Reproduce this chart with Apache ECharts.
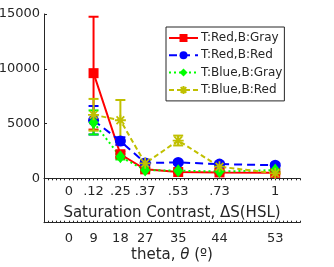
<!DOCTYPE html>
<html><head><meta charset="utf-8">
<script src="https://cdn.jsdelivr.net/npm/echarts@6/dist/echarts.min.js"></script>
<style>html,body{margin:0;padding:0;background:#fff}#c{width:334px;height:267px}</style>
</head><body><div id="c"></div>
<script>
var sat = [0.12, 0.25, 0.37, 0.53, 0.73, 1];
var satTicks = [0, 0.12, 0.25, 0.37, 0.53, 0.73, 1];
var satTickLabels = ['0', '.12', '.25', '.37', '.53', '.73', '1'];
var thetaTickLabels = ['0', '9', '18', '27', '35', '44', '53'];
var yTicks = [0, 5000, 10000, 15000];
var names = ['T:Red,B:Gray', 'T:Red,B:Red', 'T:Blue,B:Gray', 'T:Blue,B:Red'];
var redVals = [9600, 2200, 820, 580, 540, 500];
var redErr = [5150, 250, 150, 100, 100, 80];
var blueVals = [5300, 3400, 1400, 1450, 1300, 1200];
var blueErr = [1300, 350, 200, 150, 150, 150];
var greenVals = [5100, 1970, 750, 700, 620, 750];
var greenErr = [1100, 250, 120, 100, 80, 100];
var yellowVals = [5800, 5300, 1370, 3450, 1060, 460];
var yellowErr = [1450, 1850, 350, 450, 200, 100];

var xMin = -0.12, xMax = 1.12, yMin = -4050, yMax = 15000;
var colors = ['#ff0000', '#0000ff', '#00ff00', '#c0c000'];
var vals = [redVals, blueVals, greenVals, yellowVals];
var errs = [redErr, blueErr, greenErr, yellowErr];
var lineTypes = ['solid', [8, 5], [2, 3], [5, 3]];
var symbols = ['rect', 'circle', 'diamond', 'path://M0,-5L0,5M-5,0L5,0M-3.5,-3.5L3.5,3.5M-3.5,3.5L3.5,-3.5'];
var symSizes = [10, 11, [10, 13], 11];
var txt = '#262626';
var font = 'DejaVu Sans';

var gLeft = 44, gTop = 14, gW = 256, gH = 208.7;
// upper grid ends where y = 0 in the main grid
var gH0 = gH * (yMax - 0) / (yMax - yMin);

var series = [];
for (var k = 0; k < 4; k++) {
  (function (k) {
    var ebData = sat.map(function (x, i) { return [x, vals[k][i] - errs[k][i], vals[k][i] + errs[k][i]]; });
    series.push({
      type: 'custom', name: 'err' + k, xAxisIndex: 0, yAxisIndex: 0,
      data: ebData, encode: { x: 0, y: [1, 2] }, silent: true,
      renderItem: function (params, api) {
        var x = api.value(0);
        var lo = api.coord([x, api.value(1)]);
        var hi = api.coord([x, api.value(2)]);
        var w = 5;
        var st = { stroke: colors[k], lineWidth: 2 };
        return { type: 'group', children: [
          { type: 'line', shape: { x1: lo[0], y1: lo[1], x2: hi[0], y2: hi[1] }, style: st },
          { type: 'line', shape: { x1: lo[0] - w, y1: lo[1], x2: lo[0] + w, y2: lo[1] }, style: st },
          { type: 'line', shape: { x1: hi[0] - w, y1: hi[1], x2: hi[0] + w, y2: hi[1] }, style: st }
        ] };
      }
    });
    series.push({
      type: 'line', name: names[k], xAxisIndex: 0, yAxisIndex: 0,
      data: sat.map(function (x, i) { return [x, vals[k][i]]; }),
      symbol: symbols[k], symbolSize: symSizes[k], showAllSymbol: true,
      lineStyle: { color: colors[k], width: 2, type: lineTypes[k] },
      itemStyle: { color: colors[k], borderColor: colors[k], borderWidth: k === 3 ? 1.8 : 0 },
      animation: false
    });
  })(k);
}

var chart = echarts.init(document.getElementById('c'));
chart.setOption({
  animation: false,
  textStyle: { fontFamily: font },
  grid: [
    { left: gLeft, top: gTop, width: gW, height: gH, outerBoundsMode: 'none', containLabel: false },
    { left: gLeft, top: gTop, width: gW, height: gH0, outerBoundsMode: 'none', containLabel: false }
  ],
  legend: {
    data: names, orient: 'vertical', left: 166, top: 27,
    itemWidth: 29, itemHeight: 10, itemGap: 5.3,
    padding: [5, 2, 5, 2],
    borderColor: txt, borderWidth: 1, backgroundColor: '#fff',
    textStyle: { fontFamily: font, fontSize: 12, color: txt, padding: [0, 0, 0, -2] }
  },
  xAxis: [{
    // theta axis at the bottom of main grid (series drawn here)
    type: 'value', gridIndex: 0, position: 'bottom', min: xMin, max: xMax, interval: 0.02,
    axisLine: { show: true, onZero: false, lineStyle: { color: txt, width: 1 } },
    axisTick: { show: true, inside: true, length: 2, lineStyle: { color: txt } },
    splitLine: { show: false },
    axisLabel: {
      customValues: satTicks, color: txt, fontSize: 13, margin: 9, fontFamily: font,
      formatter: function (v) { var i = satTicks.indexOf(v); return i >= 0 ? thetaTickLabels[i] : ''; }
    },
    name: '{a|theta, }{i|θ}{a| (º)}', nameLocation: 'middle', nameGap: 24.5, nameMoveOverlap: false,
    nameTextStyle: { color: txt, fontSize: 15, fontFamily: font,
      rich: { a: { fontSize: 15, color: txt, fontFamily: font }, i: { fontSize: 15, color: txt, fontStyle: 'italic', fontFamily: font } } }
  }, {
    // saturation axis along y = 0
    type: 'value', gridIndex: 1, position: 'bottom', min: xMin, max: xMax, interval: 0.02,
    axisLine: { show: true, onZero: false, lineStyle: { color: txt, width: 1 } },
    axisTick: { show: true, inside: false, length: 2, lineStyle: { color: txt } },
    splitLine: { show: false },
    axisLabel: {
      customValues: satTicks, color: txt, fontSize: 13, margin: 7, fontFamily: font,
      formatter: function (v) { var i = satTicks.indexOf(v); return i >= 0 ? satTickLabels[i] : ''; }
    },
    name: 'Saturation Contrast, ΔS(HSL)', nameLocation: 'middle', nameGap: 27, nameMoveOverlap: false,
    nameTextStyle: { color: txt, fontSize: 15, fontFamily: font }
  }],
  yAxis: [{
    type: 'value', gridIndex: 0, min: yMin, max: yMax,
    axisLine: { show: true, onZero: false, lineStyle: { color: txt, width: 1 } },
    axisTick: { show: true, inside: true, length: 3, customValues: yTicks, lineStyle: { color: txt } },
    splitLine: { show: false },
    axisLabel: { customValues: yTicks, color: txt, fontSize: 13, margin: 4, fontFamily: font,
      formatter: function (v) { return String(v); } }
  }, {
    type: 'value', gridIndex: 1, min: 0, max: yMax, show: false,
    axisLine: { onZero: false }, splitLine: { show: false }
  }],
  series: series
});
</script></body></html>
